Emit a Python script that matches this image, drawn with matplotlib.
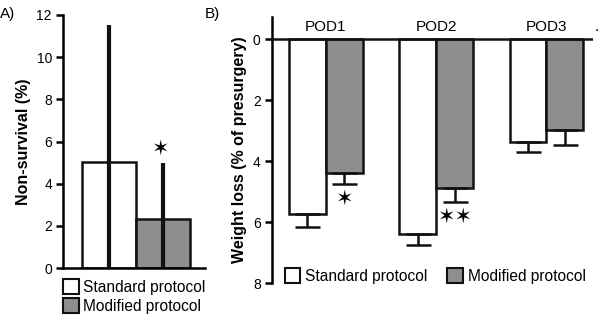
import matplotlib
matplotlib.use('Agg')
import matplotlib.pyplot as plt
import numpy as np
from matplotlib.patches import Patch

plt.rcParams['font.family'] = ['Liberation Sans', 'DejaVu Sans']

# panel A: non-survival
groups_a = ['Standard protocol', 'Modified protocol']
nonsurv = [5.05, 2.35]
nonsurv_err = [11.5, 5.0]
# panel B: weight loss per day
days = ['POD1', 'POD2', 'POD3']
loss_std = [5.75, 6.38, 3.36]
loss_std_err = [0.40, 0.36, 0.33]
loss_mod = [4.40, 4.89, 2.97]
loss_mod_err = [0.35, 0.46, 0.50]
stars_b = ['\u2736', '\u2736\u2736', '']

gray = '#8e8e90'
lw = 1.8

fig = plt.figure(figsize=(6, 3.18), dpi=100)

# ---- A ----
axA = fig.add_axes([0.105, 0.157, 0.237, 0.796])
xa = np.arange(len(nonsurv))
axA.bar(xa, nonsurv, width=1.0, color=['white', gray], edgecolor='#111111', linewidth=lw, zorder=2)
for x, t in zip(xa, nonsurv_err):
    axA.plot([x, x], [0, t], color='#111111', lw=3, solid_capstyle='butt', zorder=3)
axA.text(xa[1] - 0.05, nonsurv_err[1] + 0.2, '\u2736', ha='center', va='bottom', fontsize=15,
         family=['DejaVu Sans'], fontweight='bold')
axA.set_xlim(-0.85, 1.78)
axA.set_ylim(0, 12)
axA.set_yticks([0, 2, 4, 6, 8, 10, 12])
axA.set_xticks([])
for s in ['top', 'right']:
    axA.spines[s].set_visible(False)
axA.spines['left'].set_linewidth(lw)
axA.spines['bottom'].set_linewidth(lw)
axA.tick_params(axis='y', direction='out', length=5, width=lw, labelsize=10, pad=3)
axA.set_ylabel('Non-survival (%)', fontsize=11.5, fontweight='bold', labelpad=4)
axA.legend(handles=[Patch(facecolor='white', edgecolor='#111111', lw=1.5, label=groups_a[0]),
                    Patch(facecolor=gray, edgecolor='#111111', lw=1.5, label=groups_a[1])],
           loc='upper left', bbox_to_anchor=(0.0, -0.045), frameon=False, fontsize=11.2,
           handlelength=1.0, handleheight=1.1, handletextpad=0.3, labelspacing=0.2,
           borderaxespad=0, borderpad=0)
fig.text(0.0, 0.955, 'A)', fontsize=11, va='center')

# ---- B ----
axB = fig.add_axes([0.453, 0.110, 0.535, 0.837])
xb = np.arange(len(days))
w = 0.335
axB.bar(xb - w / 2, loss_std, width=w, color='white', edgecolor='#111111', linewidth=lw, zorder=2)
axB.bar(xb + w / 2, loss_mod, width=w, color=gray, edgecolor='#111111', linewidth=lw, zorder=2)
axB.errorbar(xb - w / 2, loss_std, yerr=[np.zeros(3), loss_std_err], fmt='none', ecolor='#111111',
             elinewidth=lw, capsize=9, capthick=lw, zorder=3)
axB.errorbar(xb + w / 2, loss_mod, yerr=[np.zeros(3), loss_mod_err], fmt='none', ecolor='#111111',
             elinewidth=lw, capsize=9, capthick=lw, zorder=3)
for x, v, e, s in zip(xb, loss_mod, loss_mod_err, stars_b):
    if s:
        axB.text(x + w / 2, v + e + 0.15, s, ha='center', va='top', fontsize=15,
                 family=['DejaVu Sans'], fontweight='bold')
axB.axhline(0, color='#111111', lw=lw, zorder=4)
for x, d in zip(xb, days):
    axB.text(x, -0.18, d, ha='center', va='bottom', fontsize=11)
axB.text(2.44, -0.18, '.', ha='left', va='bottom', fontsize=11)
axB.set_xlim(-0.49, 2.42)
axB.set_ylim(8, -0.73)
axB.set_yticks([0, 2, 4, 6, 8])
axB.set_xticks([])
for s in ['top', 'right', 'bottom']:
    axB.spines[s].set_visible(False)
axB.spines['left'].set_linewidth(lw)
axB.tick_params(axis='y', direction='out', length=5, width=lw, labelsize=10, pad=3)
axB.set_ylabel('Weight loss (% of presurgery)', fontsize=11.5, fontweight='bold', labelpad=4)
axB.legend(handles=[Patch(facecolor='white', edgecolor='#111111', lw=1.5, label='Standard protocol'),
                    Patch(facecolor=gray, edgecolor='#111111', lw=1.5, label='Modified protocol')],
           loc='center left', bbox_to_anchor=(0.04, 0.025), ncol=2, frameon=False, fontsize=11.2,
           handlelength=1.0, handleheight=1.1, handletextpad=0.3, columnspacing=1.3,
           borderaxespad=0, borderpad=0)
fig.text(0.342, 0.955, 'B)', fontsize=11, va='center')

fig.savefig('out.png', dpi=100)
